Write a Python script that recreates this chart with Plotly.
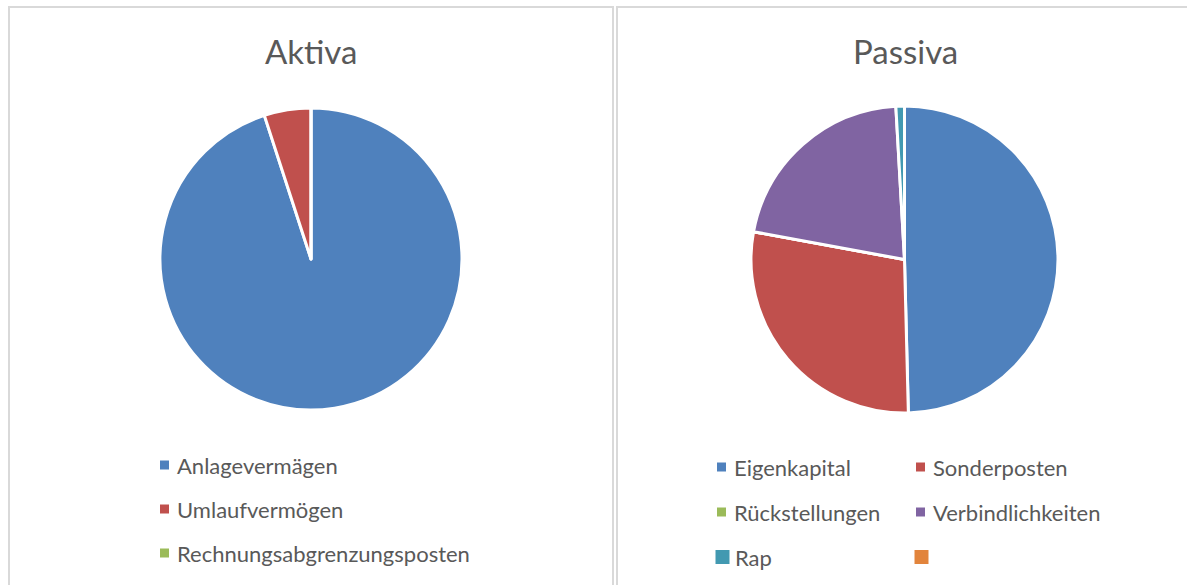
import plotly.graph_objects as go

# ---- data ----
aktiva_labels = ["Anlagevermägen", "Umlaufvermögen", "Rechnungsabgrenzungsposten"]
aktiva_values = [95.0, 5.0, 0.0]
aktiva_colors = ["#4F81BD", "#C0504D", "#9BBB59"]

passiva_labels = ["Eigenkapital", "Sonderposten", "Rückstellungen", "Verbindlichkeiten", "Rap", " "]
passiva_values = [49.6, 28.3, 0.0, 21.2, 0.9, 0.0]
passiva_colors = ["#4F81BD", "#C0504D", "#9BBB59", "#8064A2", "#4299B1", "#E2843C"]

W, H = 1187, 585
FONT = "Lato"
TXT = "#595959"

def px(x):
    return x / W

def py(y):
    return 1 - y / H

fig = go.Figure()

fig.add_trace(go.Pie(
    labels=aktiva_labels, values=aktiva_values, sort=False, direction="clockwise",
    rotation=0, textinfo="none", showlegend=False,
    marker=dict(colors=aktiva_colors, line=dict(color="white", width=3)),
    domain=dict(x=[px(160), px(462)], y=[py(410), py(108)]),
))
fig.add_trace(go.Pie(
    labels=passiva_labels, values=passiva_values, sort=False, direction="clockwise",
    rotation=0, textinfo="none", showlegend=False,
    marker=dict(colors=passiva_colors, line=dict(color="white", width=3)),
    domain=dict(x=[px(751), px(1058)], y=[py(413), py(106)]),
))

shapes = []
annotations = []

# panel borders
border = dict(color="#D9D9D9", width=2)
shapes.append(dict(type="rect", xref="paper", yref="paper", x0=px(9), x1=px(613), y0=py(620), y1=py(7), line=border))
shapes.append(dict(type="rect", xref="paper", yref="paper", x0=px(617), x1=px(1230), y0=py(620), y1=py(7), line=border))

# titles
annotations.append(dict(text="Aktiva", x=px(311), y=py(51), xref="paper", yref="paper", showarrow=False,
                        xanchor="center", yanchor="middle", font=dict(family=FONT, size=33, color=TXT)))
annotations.append(dict(text="Passiva", x=px(905), y=py(51), xref="paper", yref="paper", showarrow=False,
                        xanchor="center", yanchor="middle", font=dict(family=FONT, size=33, color=TXT)))

def legend_item(label, color, mx, my, size):
    h = size / 2
    shapes.append(dict(type="rect", xref="paper", yref="paper", x0=px(mx - h), x1=px(mx + h),
                       y0=py(my + h), y1=py(my - h), line=dict(width=0), fillcolor=color))
    annotations.append(dict(text=label, x=px(mx + 10), y=py(my), xref="paper", yref="paper", showarrow=False,
                            xanchor="left", yanchor="middle", font=dict(family=FONT, size=22, color=TXT)))

# left legend (single column)
for i, (lab, col) in enumerate(zip(aktiva_labels, aktiva_colors)):
    legend_item(lab, col, 164.5, 465 + i * 44, 9)

# right legend (two columns)
for i, (lab, col) in enumerate(zip(passiva_labels, passiva_colors)):
    r, c = divmod(i, 2)
    size = 9 if r < 2 else 14
    mx = (721.5 if c == 0 else 920.5) + (0 if r < 2 else 1)
    legend_item(lab.strip(), col, mx, 467 + r * 45, size)

fig.update_layout(
    width=W, height=H, margin=dict(l=0, r=0, t=0, b=0),
    paper_bgcolor="white", plot_bgcolor="white",
    shapes=shapes, annotations=annotations,
)

fig.write_html("out.html", config={"displayModeBar": False},
               post_script="document.body.style.margin='0';document.body.style.overflow='hidden';")
